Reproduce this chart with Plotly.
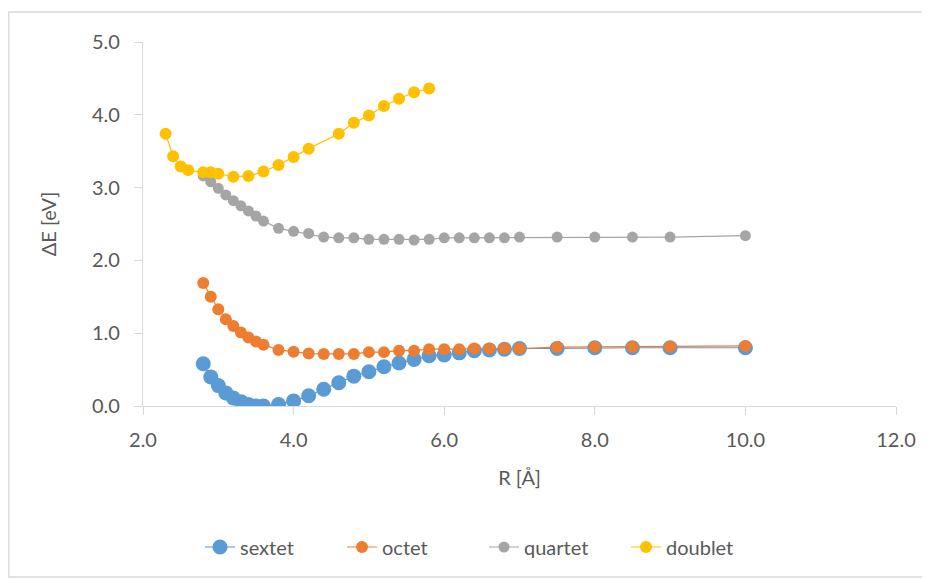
import plotly.graph_objects as go

# ---- data ----
sextet_R = [2.8, 2.9, 3.0, 3.1, 3.2, 3.3, 3.4, 3.5, 3.6, 3.8, 4.0, 4.2, 4.4, 4.6, 4.8, 5.0, 5.2, 5.4,
            5.6, 5.8, 6.0, 6.2, 6.4, 6.6, 6.8, 7.0, 7.5, 8.0, 8.5, 9.0, 10.0]
sextet_E = [0.58, 0.40, 0.28, 0.18, 0.11, 0.06, 0.02, 0.00, 0.00, 0.02, 0.07, 0.14, 0.23, 0.32, 0.41,
            0.47, 0.54, 0.59, 0.64, 0.69, 0.70, 0.73, 0.76, 0.77, 0.78, 0.79, 0.79, 0.80, 0.80, 0.80, 0.80]

octet_R = [2.8, 2.9, 3.0, 3.1, 3.2, 3.3, 3.4, 3.5, 3.6, 3.8, 4.0, 4.2, 4.4, 4.6, 4.8, 5.0, 5.2, 5.4,
           5.6, 5.8, 6.0, 6.2, 6.4, 6.6, 6.8, 7.0, 7.5, 8.0, 8.5, 9.0, 10.0]
octet_E = [1.69, 1.50, 1.33, 1.19, 1.10, 1.01, 0.94, 0.885, 0.84, 0.77, 0.745, 0.72, 0.715, 0.715, 0.715,
           0.74, 0.74, 0.76, 0.76, 0.78, 0.78, 0.78, 0.79, 0.79, 0.79, 0.79, 0.81, 0.815, 0.815, 0.815, 0.825]

quartet_R = [2.8, 2.9, 3.0, 3.1, 3.2, 3.3, 3.4, 3.5, 3.6, 3.8, 4.0, 4.2, 4.4, 4.6, 4.8, 5.0, 5.2, 5.4,
             5.6, 5.8, 6.0, 6.2, 6.4, 6.6, 6.8, 7.0, 7.5, 8.0, 8.5, 9.0, 10.0]
quartet_E = [3.16, 3.08, 2.99, 2.90, 2.82, 2.75, 2.68, 2.61, 2.54, 2.44, 2.40, 2.37, 2.32, 2.31, 2.31,
             2.29, 2.29, 2.29, 2.28, 2.29, 2.31, 2.31, 2.31, 2.31, 2.31, 2.32, 2.32, 2.32, 2.32, 2.32, 2.34]

doublet_R = [2.3, 2.4, 2.5, 2.6, 2.8, 2.9, 3.0, 3.2, 3.4, 3.6, 3.8, 4.0, 4.2, 4.6, 4.8, 5.0, 5.2, 5.4,
             5.6, 5.8]
doublet_E = [3.74, 3.43, 3.29, 3.24, 3.21, 3.21, 3.19, 3.15, 3.16, 3.22, 3.31, 3.42, 3.535, 3.74, 3.89,
             3.99, 4.12, 4.22, 4.31, 4.36]

series_names = ["sextet", "octet", "quartet", "doublet"]
series_colors = ["#5B9BD5", "#ED7D31", "#A5A5A5", "#FFC000"]
series_sizes = [15, 12, 11, 12]
series_data = [(sextet_R, sextet_E), (octet_R, octet_E), (quartet_R, quartet_E), (doublet_R, doublet_E)]

FONT = "Lato, 'Open Sans', sans-serif"
TXT = "#595959"
AX = "#D9D9D9"

# figure is placed by the page at (8, 8); size chosen so no scrollbars appear
W, H = 922, 572
L, R, T, B = 135, 33.5, 34, 174
PW, PH = W - L - R, H - T - B

fig = go.Figure()
for name, col, sz, (xs, ys) in zip(series_names, series_colors, series_sizes, series_data):
    fig.add_trace(go.Scatter(
        x=xs, y=ys, name=name, mode="lines+markers",
        line=dict(color=col, width=1.2),
        marker=dict(color=col, size=sz, line=dict(width=0)),
    ))

fig.update_layout(
    width=W, height=H,
    paper_bgcolor="white", plot_bgcolor="white",
    margin=dict(l=L, r=R, t=T, b=B, autoexpand=False),
    font=dict(family=FONT, size=20, color=TXT),
    showlegend=True,
    legend=dict(orientation="h", xref="container", x=192 / W, xanchor="left",
                yref="container", y=1 - 539 / H, yanchor="middle",
                font=dict(family=FONT, size=20, color=TXT),
                entrywidth=97, entrywidthmode="pixels",
                bgcolor="rgba(0,0,0,0)"),
    xaxis=dict(range=[2, 12], dtick=2, tick0=2, tickformat=".1f",
               showgrid=False, zeroline=False, showline=True, linecolor=AX, linewidth=1.3,
               ticks="outside", ticklen=8, tickcolor=AX, tickwidth=1.3, ticklabelstandoff=8,
               tickfont=dict(family=FONT, size=20, color=TXT),
               title=dict(text="R [Å]", font=dict(family=FONT, size=20, color=TXT), standoff=20)),
    yaxis=dict(range=[0, 5], dtick=1, tick0=0, tickformat=".1f",
               showgrid=False, zeroline=False, showline=True, linecolor=AX, linewidth=1.3,
               ticks="outside", ticklen=8, tickcolor=AX, tickwidth=1.3, ticklabelstandoff=10,
               tickfont=dict(family=FONT, size=20, color=TXT),
               title=dict(text="ΔE [eV]", font=dict(family=FONT, size=20, color=TXT), standoff=29)),
    shapes=[dict(type="rect", xref="paper", yref="paper",
                 x0=(0.7 - L) / PW, x1=(918 - L) / PW,
                 y0=(PH + T - 569) / PH, y1=(PH + T - 4) / PH,
                 line=dict(color="#D9D9D9", width=1.3), fillcolor="rgba(0,0,0,0)", layer="below")],
)

fig.write_html("out.html")
